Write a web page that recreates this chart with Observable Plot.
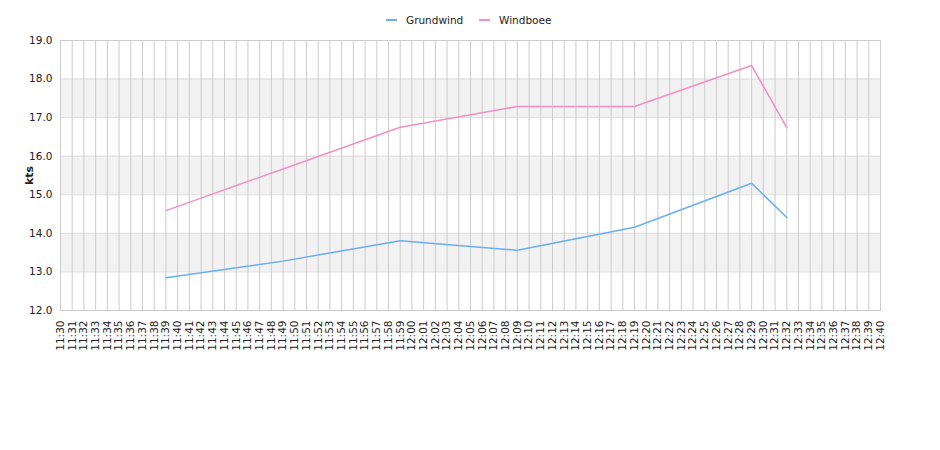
<!DOCTYPE html>
<html>
<head>
<meta charset="utf-8">
<script src="https://cdn.jsdelivr.net/npm/d3@7"></script>
<script src="https://cdn.jsdelivr.net/npm/@observablehq/plot@0.6"></script>
<style>
  body { margin: 0; background: #fff; font-family: "DejaVu Sans", sans-serif; }
  #wrap { width: 940px; height: 450px; position: relative; }
  #legend { height: 30px; position: relative; font-size: 10.5px; color: #222; }
  .item { position: absolute; top: 14px; display: flex; align-items: center; }
  .sw { width: 11px; height: 2px; margin-right: 9px; }
  #chart svg g[aria-label="y-axis label"] text { font-weight: bold; font-size: 11px; }
</style>
</head>
<body>
<div id="wrap">
  <div id="legend"></div>
  <div id="chart"></div>
</div>
<script>
const times = ["11:39", "11:49", "11:59", "12:09", "12:19", "12:29", "12:32"];
const grundwind = [12.85, 13.28, 13.81, 13.56, 14.16, 15.30, 14.41];
const windboee = [14.59, 15.67, 16.75, 17.29, 17.29, 18.35, 16.74];
const seriesNames = ["Grundwind", "Windboee"];
const seriesColors = ["#6aaef0", "#f38fc3"];
const xStart = "11:30", xEnd = "12:40";
const yTicks = [12, 13, 14, 15, 16, 17, 18, 19];
const bands = [[13, 14], [15, 16], [17, 18]];

const parse = d3.utcParse("%H:%M");
const rows = [];
times.forEach((t, i) => {
  rows.push({time: parse(t), value: grundwind[i], series: seriesNames[0]});
  rows.push({time: parse(t), value: windboee[i], series: seriesNames[1]});
});
const bandRows = bands.map(([a, b]) => ({y1: a, y2: b}));
const minuteTicks = d3.utcMinute.range(parse(xStart), d3.utcMinute.offset(parse(xEnd), 1));

// legend
const legend = document.getElementById("legend");
const lefts = [386, 479];
seriesNames.forEach((n, i) => {
  const d = document.createElement("div");
  d.className = "item";
  d.style.left = lefts[i] + "px";
  d.innerHTML = `<span class="sw" style="background:${seriesColors[i]}"></span><span>${n}</span>`;
  legend.appendChild(d);
});

const chart = Plot.plot({
  width: 940,
  height: 420,
  marginTop: 10,
  marginLeft: 60,
  marginRight: 60,
  marginBottom: 140,
  style: {fontFamily: "DejaVu Sans, sans-serif", fontSize: "10.5px", color: "#222", background: "#fff"},
  x: {type: "utc", domain: [parse(xStart), parse(xEnd)]},
  y: {domain: [12, 19]},
  color: {domain: seriesNames, range: seriesColors},
  marks: [
    Plot.rectY(bandRows, {y1: "y1", y2: "y2", x1: parse(xStart), x2: parse(xEnd), fill: "#f2f2f2"}),
    Plot.ruleY(yTicks, {stroke: "#dddddd"}),
    Plot.ruleX(minuteTicks, {stroke: "#cccccc"}),
    Plot.frame({stroke: "#cccccc"}),
    Plot.axisY({ticks: yTicks, tickFormat: d3.format(".1f"), tickSize: 0, tickPadding: 8,
      label: "kts", labelAnchor: "center", labelArrow: "none", labelOffset: 35}),
    Plot.axisX({ticks: minuteTicks, tickFormat: d3.utcFormat("%H:%M"), tickRotate: -90, tickSize: 0, tickPadding: 10, label: null}),
    Plot.line(rows, {x: "time", y: "value", stroke: "series", z: "series", strokeWidth: 1.5})
  ]
});
document.getElementById("chart").appendChild(chart);
</script>
</body>
</html>
